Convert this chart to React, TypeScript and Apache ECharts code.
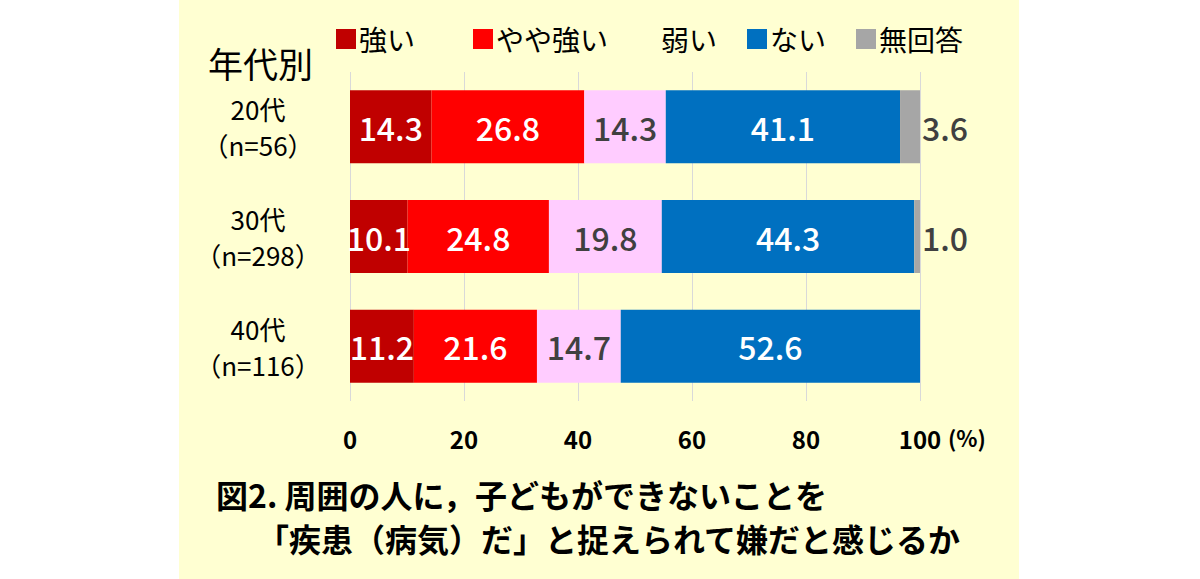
import React, { useEffect, useRef } from "react";
import * as echarts from "echarts";

const categories = ["20代\n（n=56）", "30代\n（n=298）", "40代\n（n=116）"];
const seriesNames = ["強い", "やや強い", "弱い", "ない", "無回答"];
const strong = [14.3, 10.1, 11.2];
const ratherStrong = [26.8, 24.8, 21.6];
const weak = [14.3, 19.8, 14.7];
const none = [41.1, 44.3, 52.6];
const noAnswer = [3.6, 1.0, 0];
const xTicks = [0, 20, 40, 60, 80, 100];

const colors = ["#C00000", "#FF0000", "#FFCCFF", "#0070C0", "#A6A6A6"];
const labelColors = ["#FFFFFF", "#FFFFFF", "#404040", "#FFFFFF", "#404040"];
const FONT = "'Noto Sans CJK JP', 'Noto Sans', sans-serif";

export default function App() {
  const ref = useRef<HTMLDivElement>(null);
  useEffect(() => {
    if (!ref.current) return;
    const chart = echarts.init(ref.current, null, { renderer: "svg" });
    const values = [strong, ratherStrong, weak, none, noAnswer];
    const series = seriesNames.map((name, i) => ({
      name,
      type: "bar",
      stack: "total",
      barWidth: 73,
      data: values[i],
      itemStyle: { color: colors[i] },
      label: {
        show: true,
        position: i === 4 ? "right" : "inside",
        distance: 2,
        color: labelColors[i],
        fontSize: 32,
        fontFamily: FONT,
        fontWeight: 500,
        formatter: (p: any) => (p.value ? Number(p.value).toFixed(1) : ""),
      },
    }));
    chart.setOption({
      animation: false,
      backgroundColor: "#FFFFFF",
      graphic: [
        {
          type: "rect",
          z: -10,
          silent: true,
          shape: { x: 179, y: 0, width: 840, height: 579 },
          style: { fill: "#FFFFD2" },
        },
        {
          type: "text",
          left: 208,
          top: 45,
          style: { text: "年代別", fontSize: 35, fontFamily: FONT, fill: "#000000" },
        },
        {
          type: "text",
          left: 948,
          top: 426,
          style: { text: "(%)", fontSize: 22, fontFamily: FONT, fontWeight: "bold", fill: "#000000" },
        },
        {
          type: "text",
          left: 216,
          top: 478,
          style: {
            text: "図2. 周囲の人に，子どもができないことを",
            fontSize: 32,
            fontFamily: FONT,
            fontWeight: "bold",
            fill: "#000000",
          },
        },
        {
          type: "text",
          left: 257,
          top: 522,
          style: {
            text: "「疾患（病気）だ」と捉えられて嫌だと感じるか",
            fontSize: 32,
            fontFamily: FONT,
            fontWeight: "bold",
            fill: "#000000",
          },
        },
      ],
      legend: {
        left: 331,
        top: 20,
        itemWidth: 20,
        itemHeight: 20,
        itemGap: 30,
        icon: "rect",
        textStyle: { fontSize: 28, fontFamily: FONT, color: "#000000", padding: [0, 0, 0, -2] },
        formatter: (name: string) => (name === "強い" ? name + "　" : name),
        data: seriesNames.map((n, i) =>
          i === 2 ? { name: n, itemStyle: { color: "rgba(0,0,0,0)" } } : { name: n }
        ),
      },
      grid: { left: 350, right: 280, top: 72, bottom: 178 },
      xAxis: {
        type: "value",
        min: xTicks[0],
        max: xTicks[xTicks.length - 1],
        interval: 20,
        axisLine: { show: false },
        axisTick: { show: false },
        splitLine: { show: true, lineStyle: { color: "#D9D9D9", width: 1 } },
        axisLabel: {
          margin: 25,
          fontSize: 24,
          fontFamily: FONT,
          fontWeight: "bold",
          color: "#000000",
        },
      },
      yAxis: {
        type: "category",
        inverse: true,
        data: categories,
        axisLine: { show: false },
        axisTick: { show: false },
        axisLabel: {
          align: "center",
          margin: 92,
          fontSize: 26,
          lineHeight: 36,
          fontFamily: FONT,
          color: "#000000",
        },
      },
      series,
    });
    return () => chart.dispose();
  }, []);
  return (
    <div
      ref={ref}
      style={{ position: "fixed", left: 0, top: 0, width: 1200, height: 579 }}
    />
  );
}
